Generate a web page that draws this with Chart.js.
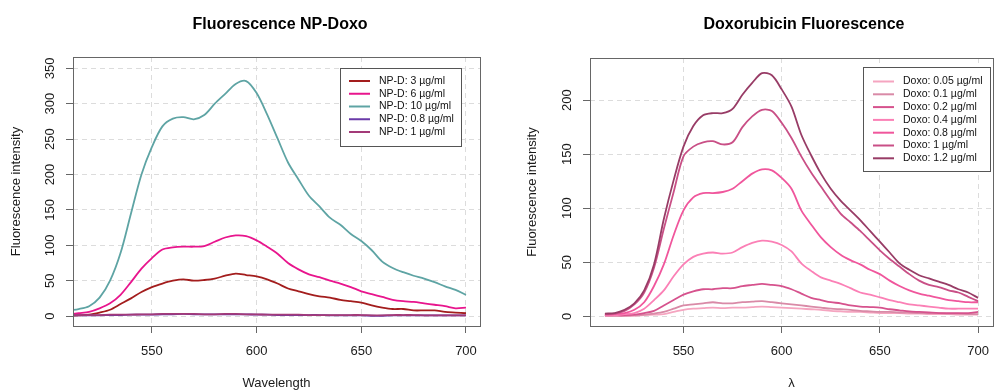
<!DOCTYPE html>
<html>
<head>
<meta charset="utf-8">
<script src="https://cdn.jsdelivr.net/npm/chart.js@4"></script>
<style>
html, body { margin: 0; padding: 0; background: #fff; overflow: hidden; }
#wrap { position: relative; width: 994px; height: 392px; overflow: hidden; }
canvas { position: absolute; top: 0; }
#npChart { left: 0; }
#doxoChart { left: 497px; }
</style>
</head>
<body>
<div id="wrap">
  <canvas id="npChart" width="497" height="392"></canvas>
  <canvas id="doxoChart" width="503" height="392"></canvas>
</div>
<script>
// wavelength grid (nm)
const wavelength = [510,515,520,525,530,535,540,545,550,555,560,565,570,575,580,585,590,595,600,605,
  610,615,620,625,630,635,640,645,650,655,660,665,670,675,680,685,690,695,700];

// left panel: NP-Doxo
const npLabels = ["NP-D: 3 µg/ml", "NP-D: 6 µg/ml", "NP-D: 10 µg/ml", "NP-D: 0.8 µg/ml", "NP-D: 1 µg/ml"];
const npColors = ["#a31d1d", "#e8158d", "#5ea4a4", "#6a3aa8", "#a33a78"];
const npd3  = [0.5,1,2,5,9,17,25,34,41,46,50,52,50,51,53,57,60,58,56,52,46,39,35,31,28,26,23,21,19,15,12,10,10,8,8,8,6,5,4];
const npd6  = [2,4,6,11,18,30,48,67,82,94,97,98,98,99,105,111,114,113,107,98,88,75,66,59,55,50,46,41,35,31,27,23,21,20,18,16,14,11,12];
const npd10 = [8,10,14,26,50,89,145,200,239,268,279,281,278,284,300,314,328,332,315,285,251,217,193,170,155,139,129,116,106,93,77,68,62,57,53,48,42,37,30];
const npd08 = [1,1,1,1,1.5,1.5,2,2,2,2.5,2.5,3,2.5,2.5,2.5,2.5,2.5,2.5,2,2,1.5,1.5,1.5,1.5,1.5,1,1,1,1,0.5,0.5,1,1,1,1,1,1,1,1];
const npd1  = [1.5,1.5,1.5,1.5,2,2,2,2.5,2.5,3,3,3,3,2.5,2.5,3,3,2.5,2.5,2,2,2,2,1.5,1.5,1.5,1.5,1.5,1.5,1,1,1.5,1.5,1.5,1,1,1,1,1];

// right panel: free doxorubicin
const doxoLabels = ["Doxo: 0.05 µg/ml", "Doxo: 0.1 µg/ml", "Doxo: 0.2 µg/ml", "Doxo: 0.4 µg/ml",
  "Doxo: 0.8 µg/ml", "Doxo: 1 µg/ml", "Doxo: 1.2 µg/ml"];
const doxoColors = ["#f5a5c0", "#d98aa7", "#d6528d", "#fb80b6", "#f0569c", "#c94f86", "#983c66"];
const doxo005 = [0.5,0.5,0.5,0.5,1,1.5,2,4,6,7,7.5,8,7.5,8,8,8.5,9,8.5,8,7.5,7,6.5,6,5,4.5,4,4,3.5,3,3,3,2.5,2.5,2,2,2,1.5,1.5,1.5];
const doxo01  = [0.5,0.5,0.5,1,1.5,2.5,4,7,10,11,12,13,12,12,13,13.5,14,13,12,11,10,9,8,7,6.5,6,5,4.5,4,4,3.5,3.5,3,3,3,2.5,2.5,2,2];
const doxo02  = [1,1,1,1.5,3,5,10,15,20,23,25,25,26,26,28,29,30,29,28,25,21,17,15,13,12,10,9,8.5,8,6.5,5.5,4.5,4,3.5,3,3,3,3,4];
const doxo04  = [1,1,2,3,7,15,24,37,48,55,58,59,58,59,64,68,70,69,66,60,49,42,36,33,30,26,22,20,17.5,15,13,11,10,9,8,7,7,7,7];
const doxo08  = [1.5,2,3,6,13,28,48,75,98,110,114,114,115,118,125,132,136,135,128,118,98,85,73,64,57,52,48,43,39,33,28,24,21,19,17,15,14,13,13];
const doxo1   = [2,2.5,5,11,22,45,81,115,148,157,161,162,159,161,175,185,191,190,179,165,148,133,120,107,95,87,79,70,61,53,46,39,33,29,27,24,22,18,14];
const doxo12  = [2.5,3,6,12,24,48,90,126,157,176,186,188,188,192,205,216,225,223,210,194,168,149,132,118,107,98,89,79,69,59,49,43,38,35,32,29,25,22,17];

// tick values
const xTicks = [550, 600, 650, 700];
const npYTicks = [0, 50, 100, 150, 200, 250, 300, 350];
const doxoYTicks = [0, 50, 100, 150, 200];

Chart.defaults.font.family = '"Liberation Sans", Arial, sans-serif';
Chart.defaults.color = "#1a1a1a";

// box, main title and boxed legend, drawn the R way
const rPanel = {
  id: "rPanel",
  afterDraw(chart, args, opts) {
    const ctx = chart.ctx;
    const a = chart.chartArea;
    ctx.save();
    ctx.strokeStyle = "#666";
    ctx.lineWidth = 1;
    ctx.strokeRect(Math.round(a.left) + 0.5, Math.round(a.top) + 0.5,
      Math.round(a.right - a.left), Math.round(a.bottom - a.top));

    ctx.fillStyle = "#000";
    ctx.font = 'bold 16px "Liberation Sans", Arial, sans-serif';
    ctx.textAlign = "center";
    ctx.textBaseline = "middle";
    ctx.fillText(opts.title, opts.titleX, 25);

    const lg = opts.legend;
    ctx.fillStyle = "#fff";
    ctx.fillRect(lg.left, lg.top, lg.w, lg.h);
    ctx.strokeStyle = "#555";
    ctx.strokeRect(lg.left + 0.5, lg.top + 0.5, lg.w, lg.h);
    ctx.font = '10.5px "Liberation Sans", Arial, sans-serif';
    ctx.textAlign = "left";
    chart.data.datasets.forEach((ds, i) => {
      const y = lg.top + lg.first + i * lg.gap;
      ctx.strokeStyle = ds.borderColor;
      ctx.lineWidth = 2;
      ctx.beginPath();
      ctx.moveTo(lg.left + lg.lineX, y);
      ctx.lineTo(lg.left + lg.lineX + 21, y);
      ctx.stroke();
      ctx.fillStyle = "#111";
      ctx.fillText(ds.label, lg.left + lg.textX, y);
    });
    ctx.restore();
  }
};

function series(labels, colors, values) {
  return values.map((vals, i) => ({
    label: labels[i],
    data: wavelength.map((w, j) => ({ x: w, y: vals[j] })),
    borderColor: colors[i],
    backgroundColor: colors[i],
    borderWidth: 1.8,
    pointRadius: 0,
    tension: 0.3,
    fill: false,
    clip: 0,
    order: -i
  }));
}

const gridOpts = { color: "#dcdcdc", tickColor: "#666", tickLength: 7, tickBorderDash: [1, 0] };
const borderOpts = { display: false, dash: [5, 4] };

function xAxis(min, max, title) {
  return {
    type: "linear", min: min, max: max,
    afterBuildTicks: s => { s.ticks = xTicks.map(v => ({ value: v })); },
    afterFit: s => { s.height = 66; },
    grid: gridOpts,
    border: borderOpts,
    ticks: { font: { size: 13 }, padding: 11, maxRotation: 0, autoSkip: false },
    title: { display: true, text: title, font: { size: 13 }, padding: { top: 0, bottom: 1 } }
  };
}

function yAxis(min, max, ticks, width, labelPad, titlePad) {
  return {
    type: "linear", min: min, max: max,
    afterBuildTicks: s => { s.ticks = ticks.map(v => ({ value: v })); },
    afterFit: s => { s.width = width; },
    grid: gridOpts,
    border: borderOpts,
    ticks: { font: { size: 13 }, padding: labelPad, minRotation: 90, maxRotation: 90, crossAlign: "center" },
    title: { display: true, text: "Fluorescence intensity", font: { size: 13 }, padding: { top: titlePad, bottom: 0 } }
  };
}

new Chart(document.getElementById("npChart"), {
  type: "line",
  data: { datasets: series(npLabels, npColors, [npd3, npd6, npd10, npd08, npd1]) },
  options: {
    responsive: false,
    animation: false,
    devicePixelRatio: 1,
    layout: { padding: { top: 57, right: 17, bottom: 0, left: 0 } },
    scales: {
      x: xAxis(512.3, 706.7, "Wavelength"),
      y: yAxis(-14, 366, npYTicks, 73, 5, 9)
    },
    plugins: {
      legend: { display: false },
      tooltip: { enabled: false },
      rPanel: {
        title: "Fluorescence NP-Doxo", titleX: 280,
        legend: { left: 340, top: 68, w: 121, h: 78, first: 13, gap: 12.75, lineX: 9, textX: 39 }
      }
    }
  },
  plugins: [rPanel]
});

new Chart(document.getElementById("doxoChart"), {
  type: "line",
  data: { datasets: series(doxoLabels, doxoColors, [doxo005, doxo01, doxo02, doxo04, doxo08, doxo1, doxo12]) },
  options: {
    responsive: false,
    animation: false,
    devicePixelRatio: 1,
    layout: { padding: { top: 58, right: 3, bottom: 0, left: 0 } },
    scales: {
      x: xAxis(502.4, 707.6, "λ"),
      y: yAxis(-9, 239, doxoYTicks, 93, 5, 28)
    },
    plugins: {
      legend: { display: false },
      tooltip: { enabled: false },
      rPanel: {
        title: "Doxorubicin Fluorescence", titleX: 307,
        legend: { left: 366, top: 67, w: 127, h: 104, first: 14.5, gap: 12.8, lineX: 10, textX: 40 }
      }
    }
  },
  plugins: [rPanel]
});
</script>
</body>
</html>
